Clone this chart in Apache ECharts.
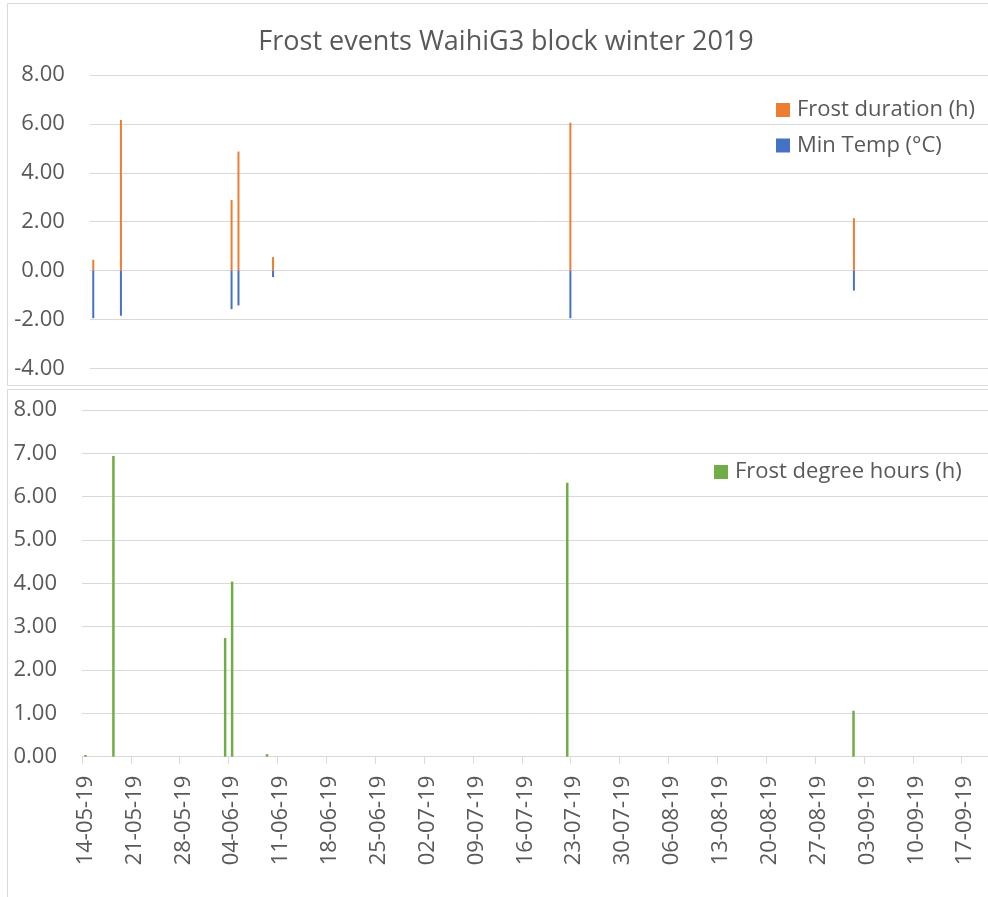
<!DOCTYPE html>
<html>
<head>
<meta charset="utf-8">
<script src="https://cdn.jsdelivr.net/npm/echarts@6/dist/echarts.min.js"></script>
<style>
  html, body { margin: 0; padding: 0; background: #fff; }
  #chart { width: 988px; height: 897px; }
</style>
</head>
<body>
<div id="chart"></div>
<script>
// ---- data ----
const startDate = '2019-05-14';
const dayCount = 131;
const tickLabels = ['14-05-19','21-05-19','28-05-19','04-06-19','11-06-19','18-06-19','25-06-19',
  '02-07-19','09-07-19','16-07-19','23-07-19','30-07-19','06-08-19','13-08-19','20-08-19',
  '27-08-19','03-09-19','10-09-19','17-09-19'];
const eventDates = ['2019-05-14','2019-05-18','2019-06-03','2019-06-04','2019-06-09','2019-07-22','2019-09-01'];
const frostDuration = [0.44, 6.16, 2.89, 4.87, 0.55, 6.05, 2.14];
const minTemp = [-1.95, -1.85, -1.58, -1.43, -0.27, -1.95, -0.82];
const frostDegreeHours = [0.04, 6.94, 2.74, 4.04, 0.06, 6.32, 1.06];

// ---- build daily categories & series ----
const t0 = Date.parse(startDate);
const categories = [];
for (let i = 0; i < dayCount; i++) {
  const d = new Date(t0 + i * 86400000);
  const dd = String(d.getUTCDate()).padStart(2, '0');
  const mm = String(d.getUTCMonth() + 1).padStart(2, '0');
  const yy = String(d.getUTCFullYear()).slice(2);
  categories.push(dd + '-' + mm + '-' + yy);
}
function toDaily(values) {
  const arr = new Array(dayCount).fill(null);
  eventDates.forEach((ds, k) => {
    const idx = Math.round((Date.parse(ds) - t0) / 86400000);
    arr[idx] = values[k];
  });
  return arr;
}

const FONT = 'Open Sans';
const TXT = '#595959';
const GRID = '#d9d9d9';

const chart = echarts.init(document.getElementById('chart'), null, { renderer: 'canvas' });
chart.setOption({
  animation: false,
  backgroundColor: '#fff',
  title: {
    text: 'Frost events WaihiG3 block winter 2019',
    left: 501, top: 37, textAlign: 'center', textVerticalAlign: 'middle',
    textStyle: { fontFamily: FONT, fontSize: 27, fontWeight: 'normal', color: TXT }
  },
  graphic: [
    { type: 'rect', shape: { x: 7.5, y: 3.5, width: 1000, height: 382 }, style: { fill: 'none', stroke: GRID, lineWidth: 1 }, silent: true },
    { type: 'rect', shape: { x: 7.5, y: 389.5, width: 1000, height: 520 }, style: { fill: 'none', stroke: GRID, lineWidth: 1 }, silent: true }
  ],
  legend: [
    {
      data: ['Frost duration (h)', 'Min Temp (°C)'],
      orient: 'vertical', left: 776, top: 99, padding: 0, itemWidth: 14, itemHeight: 14, itemGap: 13.5,
      icon: 'rect', textStyle: { fontFamily: FONT, fontSize: 22, color: TXT, lineHeight: 22, padding: [0, 0, 0, 2] }
    },
    {
      data: ['Frost degree hours (h)'],
      orient: 'vertical', left: 714, top: 461, padding: 0, itemWidth: 14, itemHeight: 14,
      icon: 'rect', textStyle: { fontFamily: FONT, fontSize: 22, color: TXT, lineHeight: 22, padding: [0, 0, 0, 2] }
    }
  ],
  grid: [
    { left: 89.8, top: 75, width: dayCount * 6.915, height: 293.3, containLabel: false, outerBoundsMode: 'none' },
    { left: 82, top: 410, width: dayCount * 6.982, height: 346.7, containLabel: false, outerBoundsMode: 'none' }
  ],
  xAxis: [
    {
      type: 'category', gridIndex: 0, data: categories, boundaryGap: true,
      axisLine: { show: false }, axisTick: { show: false }, axisLabel: { show: false }, splitLine: { show: false }
    },
    {
      type: 'category', gridIndex: 1, data: categories, boundaryGap: true,
      axisLine: { show: true, onZero: false, lineStyle: { color: GRID, width: 1 } },
      axisTick: { show: true, interval: 6, alignWithLabel: false, length: 7, lineStyle: { color: GRID } },
      axisLabel: {
        interval: 6, rotate: 90, margin: 19, fontFamily: FONT, fontSize: 22, color: TXT,
        formatter: (v, i) => (i % 7 === 0 ? tickLabels[i / 7] : '')
      },
      splitLine: { show: false }
    }
  ],
  yAxis: [
    {
      type: 'value', gridIndex: 0, min: -4, max: 8, interval: 2,
      axisLine: { show: false }, axisTick: { show: false },
      axisLabel: { margin: 25, fontFamily: FONT, fontSize: 22, color: TXT, formatter: v => v.toFixed(2) },
      splitLine: { lineStyle: { color: GRID, width: 1 } }
    },
    {
      type: 'value', gridIndex: 1, min: 0, max: 8, interval: 1,
      axisLine: { show: false }, axisTick: { show: false },
      axisLabel: { margin: 25, fontFamily: FONT, fontSize: 22, color: TXT, formatter: v => v.toFixed(2) },
      splitLine: { lineStyle: { color: GRID, width: 1 } }
    }
  ],
  series: [
    {
      name: 'Frost duration (h)', type: 'bar', xAxisIndex: 0, yAxisIndex: 0, stack: 'top',
      barWidth: 2, itemStyle: { color: '#ED7D31' }, data: toDaily(frostDuration)
    },
    {
      name: 'Min Temp (°C)', type: 'bar', xAxisIndex: 0, yAxisIndex: 0, stack: 'top',
      barWidth: 2, itemStyle: { color: '#4472C4' }, data: toDaily(minTemp)
    },
    {
      name: 'Frost degree hours (h)', type: 'bar', xAxisIndex: 1, yAxisIndex: 1,
      barWidth: 2.5, itemStyle: { color: '#70AD47' }, data: toDaily(frostDegreeHours)
    }
  ]
});
</script>
</body>
</html>
